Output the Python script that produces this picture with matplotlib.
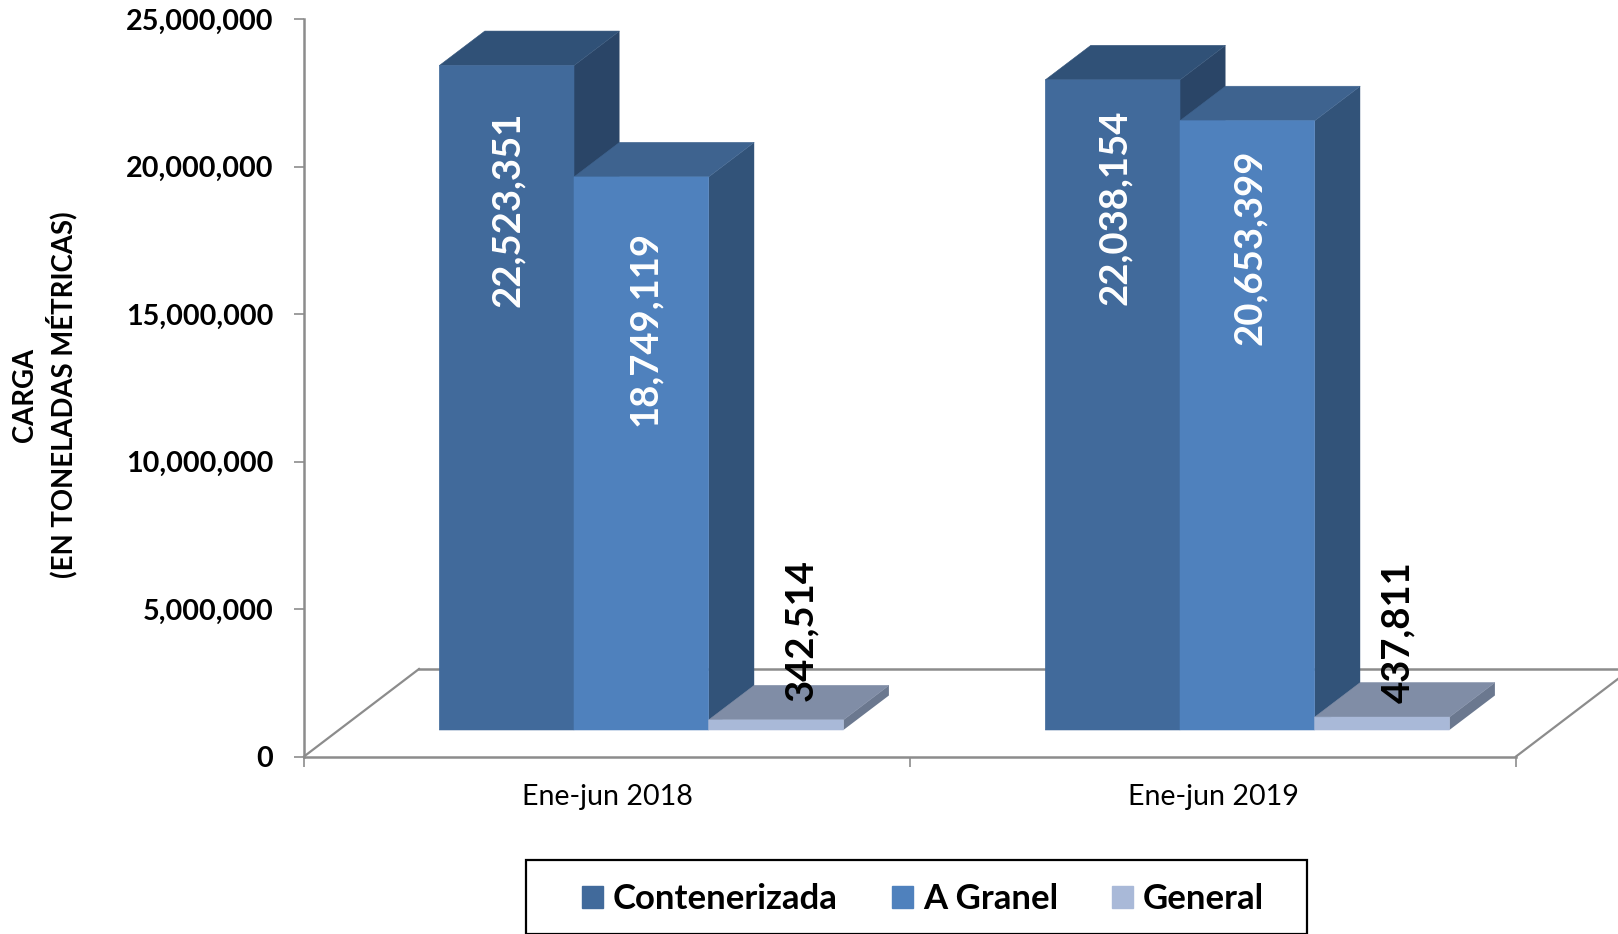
import matplotlib
matplotlib.use('Agg')
import matplotlib.pyplot as plt
from matplotlib.patches import Patch, Rectangle
from matplotlib.ticker import FuncFormatter

plt.rcParams['font.family'] = ['Lato', 'DejaVu Sans']

# data
periodos = ['Ene-jun 2018', 'Ene-jun 2019']
series = ['Contenerizada', 'A Granel', 'General']
contenerizada = [22523351, 22038154]
a_granel = [18749119, 20653399]
general = [342514, 437811]
y_ticks = [0, 5000000, 10000000, 15000000, 20000000, 25000000]

# colours: front, top, side
col_front = ['#416A9B', '#4F81BD', '#A9B9D8']
col_top = ['#305177', '#3E638F', '#808DA6']
col_side = ['#2A4567', '#325379', '#6B788F']

W, H = 1618, 934
AX_L, AX_R, AX_T, AX_B = 304, 1516, 19, 756.5

fig = plt.figure(figsize=(W / 100, H / 100), dpi=100, facecolor='white')
ax = fig.add_axes([AX_L / W, 1 - AX_B / H, (AX_R - AX_L) / W, (AX_B - AX_T) / H])
ax.set_xlim(0, 2)
ax.set_ylim(0, 25000000)

# px -> data sizes
px_x = 2 / (AX_R - AX_L)
px_y = 25000000 / (AX_B - AX_T)

# floor of the 3d box
floor_dx = 115 * px_x
floor_dy = 87.5 * px_y
grey = '#8C8C8C'
ax.plot([0, floor_dx], [0, floor_dy], color=grey, lw=1.6, clip_on=False, zorder=1)
ax.plot([floor_dx, 2 + floor_dx], [floor_dy, floor_dy], color=grey, lw=1.8, clip_on=False, zorder=1)
ax.plot([2, 2 + floor_dx], [0, floor_dy], color=grey, lw=1.6, clip_on=False, zorder=1)

# bars
bar_w = 134.7 * px_x
base = 26.5 * px_y
dep_x = 45.5 * px_x
dep_y = 34.5 * px_y
start = 135.3 * px_x

# label offsets in px: along x from bar centre, down from bar top, colours
lab_dx = [[1, 2], [4, 3], [25, 16]]
lab_dy = [[144, 127], [152, 127], [-90, -85]]
lab_col = ['white', 'white', 'black']

z = 3
for s, vals in enumerate([contenerizada, a_granel, general]):
    for g, v in enumerate(vals):
        x0 = g + start + s * bar_w
        x1 = x0 + bar_w
        top = base + v
        ax.bar(x0, v, width=bar_w, bottom=base, align='edge', color=col_front[s], ec=col_front[s], lw=0.4,
               zorder=z + 2, clip_on=False, snap=False)
        ax.fill([x0, x0 + dep_x, x1 + dep_x, x1], [top, top + dep_y, top + dep_y, top],
                color=col_top[s], lw=0.4, zorder=z + 1, clip_on=False)
        ax.fill([x1, x1 + dep_x, x1 + dep_x, x1], [base, base + dep_y, top + dep_y, top],
                color=col_side[s], lw=0, zorder=z, clip_on=False)
        ax.text(x0 + bar_w / 2 + lab_dx[s][g] * px_x, top - lab_dy[s][g] * px_y, f'{v:,}',
                rotation=90, ha='center', va='center', fontsize=27.5, fontweight='bold',
                color=lab_col[s], zorder=20)
    z += 3

# axes
for k in ['top', 'right']:
    ax.spines[k].set_visible(False)
for k in ['left', 'bottom']:
    ax.spines[k].set_color(grey)
    ax.spines[k].set_linewidth(1.8)
ax.set_yticks(y_ticks)
ax.yaxis.set_major_formatter(FuncFormatter(lambda v, p: f'{int(v):,}'))
ax.tick_params(axis='y', length=7, width=1.2, color=grey, pad=15, labelsize=20.7)
for t in ax.get_yticklabels():
    t.set_fontweight('bold')
ax.set_xticks([0, 1, 2])
ax.set_xticklabels([])
ax.set_xticks([0.5, 1.5], minor=True)
ax.set_xticklabels(periodos, minor=True, fontsize=20.6)
ax.tick_params(axis='x', which='major', length=7, width=1.2, color=grey)
ax.tick_params(axis='x', which='minor', length=0, pad=20)

fig.text(45 / W, 1 - 395 / H, 'CARGA\n(EN TONELADAS MÉTRICAS)', rotation=90, ha='center', va='center',
         fontsize=19.8, fontweight='bold', linespacing=1.3)

# legend
fig.add_artist(Rectangle((526 / W, 1 - 934 / H), 781 / W, 74 / H, transform=fig.transFigure,
                         fill=False, ec='black', lw=1.6))
handles = [Patch(color=c) for c in col_front]
fig.legend(handles, series, loc='center', bbox_to_anchor=(923 / W, 1 - 899 / H), ncols=3, frameon=False,
           prop={'size': 25, 'weight': 'bold'}, handlelength=0.6, handleheight=0.6,
           handletextpad=0.3, columnspacing=1.55)

fig.savefig('out.png', dpi=100)
